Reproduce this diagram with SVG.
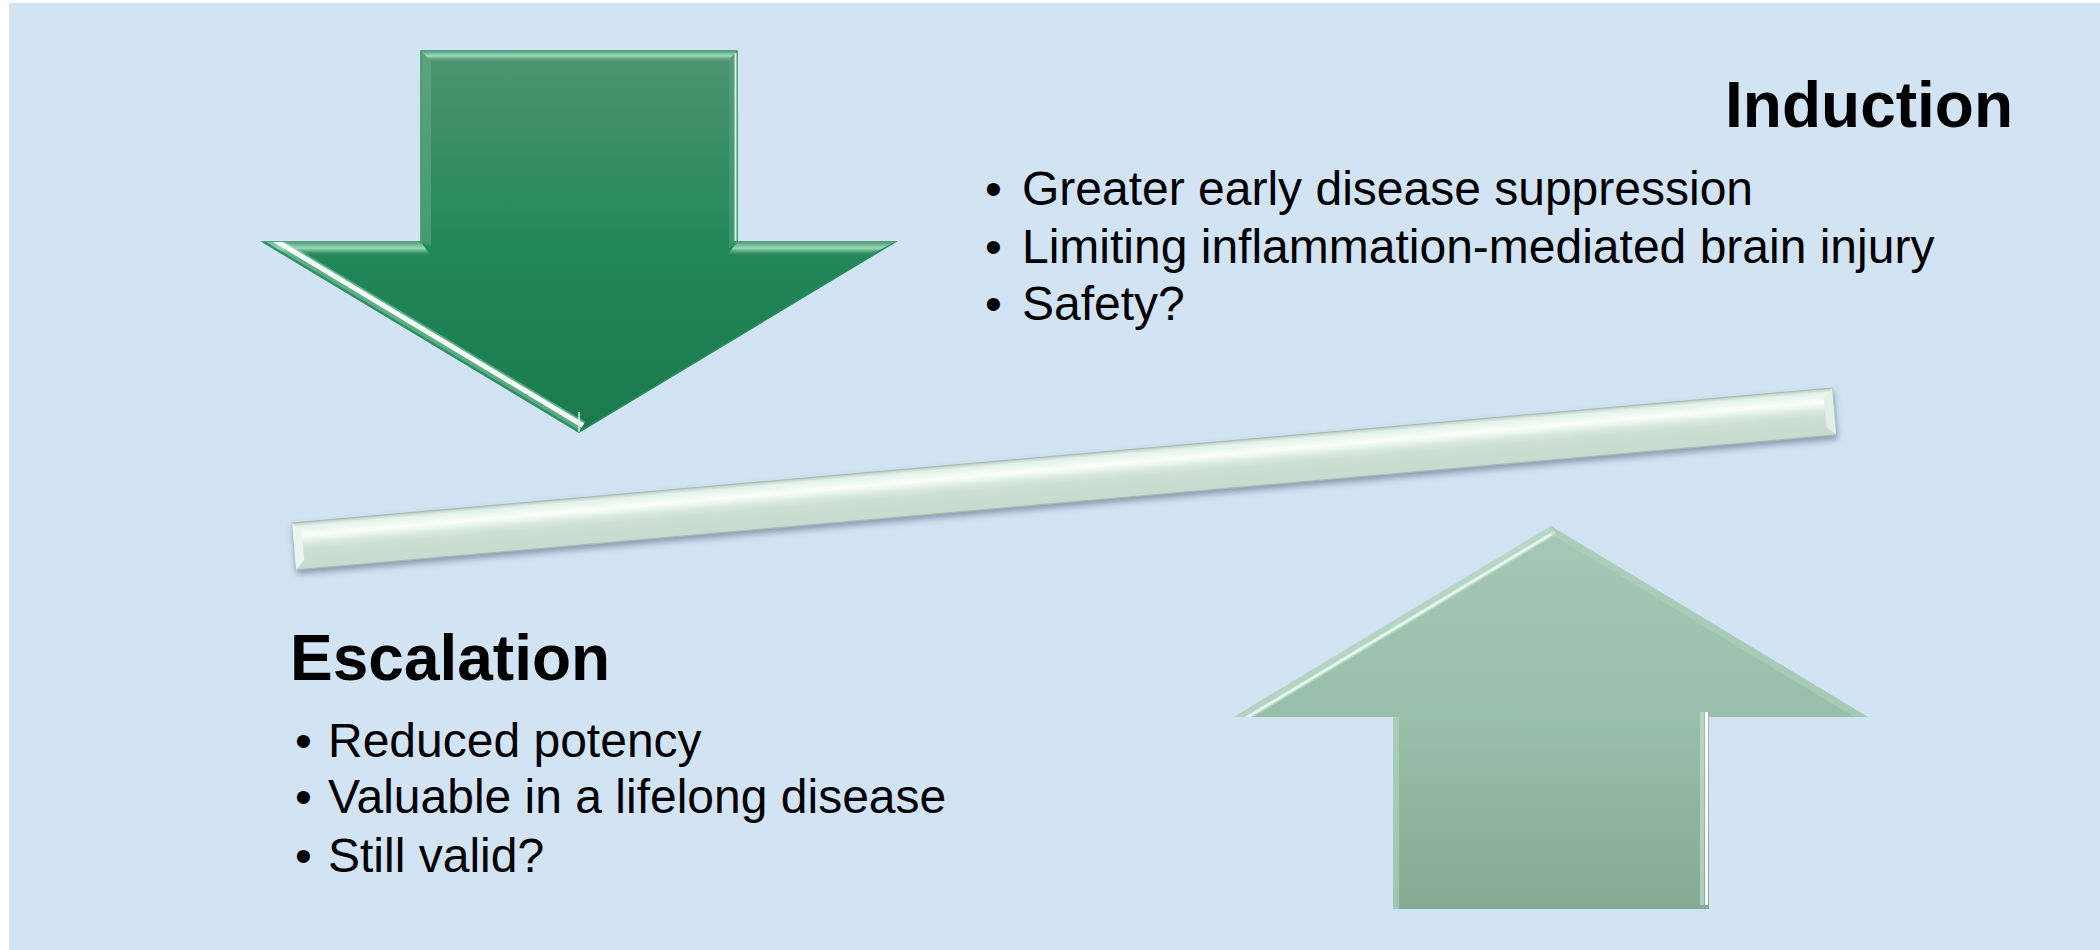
<svg xmlns="http://www.w3.org/2000/svg" width="2100" height="950" viewBox="0 0 2100 950">
  <defs>
    <style>
      .title { font-family: "Liberation Sans", Arial, sans-serif; font-weight: bold; font-size: 64px; fill: #000; }
      .item { font-family: "Liberation Sans", Arial, sans-serif; font-size: 48px; fill: #000; }
    </style>
    <linearGradient id="downFill" x1="0" y1="0" x2="0" y2="1">
      <stop offset="0" stop-color="#4d946f"/>
      <stop offset="0.5" stop-color="#228859"/>
      <stop offset="1" stop-color="#1a7a4d"/>
    </linearGradient>
    <linearGradient id="upFill" x1="0" y1="0" x2="0" y2="1">
      <stop offset="0" stop-color="#a5c8b5"/>
      <stop offset="0.5" stop-color="#98bfa9"/>
      <stop offset="1" stop-color="#85aa93"/>
    </linearGradient>
    <linearGradient id="barFill" x1="0" y1="0" x2="0" y2="1">
      <stop offset="0" stop-color="#b8cbc1"/>
      <stop offset="0.08" stop-color="#e3f1e9"/>
      <stop offset="0.28" stop-color="#fbfffd"/>
      <stop offset="0.45" stop-color="#dbeae1"/>
      <stop offset="0.58" stop-color="#cddfd4"/>
      <stop offset="1" stop-color="#c9dbcf"/>
    </linearGradient>
    <linearGradient id="mintBandH" x1="0" y1="0" x2="0" y2="1">
      <stop offset="0" stop-color="#5a9f7c"/>
      <stop offset="0.45" stop-color="#aee8cb"/>
      <stop offset="1" stop-color="#3f8f66" stop-opacity="0"/>
    </linearGradient>
    <clipPath id="downClip">
      <polygon points="421,51 737,51 737,242 895,242 579,432 263,242 421,242"/>
    </clipPath>
    <clipPath id="upClip">
      <polygon points="1551,526 1868,717 1709,717 1709,909 1393,909 1393,717 1234,717"/>
    </clipPath>
    <filter id="barShadow" x="-5%" y="-50%" width="110%" height="220%">
      <feDropShadow dx="1" dy="4" stdDeviation="3" flood-color="#4d6177" flood-opacity="0.55"/>
    </filter>
  </defs>

  <!-- slide background -->
  <rect x="0" y="0" width="2100" height="950" fill="#ffffff"/>
  <rect x="9" y="3" width="2091" height="947" fill="#d2e3f4"/>

  <!-- heavy side: downward arrow -->
  <g id="arrow-down">
    <polygon points="421,51 737,51 737,242 895,242 579,432 263,242 421,242" fill="url(#downFill)" stroke="#2a8b5d" stroke-width="1.5"/>
    <g clip-path="url(#downClip)">
      <!-- bevel bands -->
      <polygon points="421,51 737,51 727,62 431,62" fill="url(#mintBandH)" opacity="0.85"/>
      <polygon points="263,242 421,242 431,256 290,256" fill="url(#mintBandH)" opacity="0.85"/>
      <polygon points="737,242 895,242 868,256 727,256" fill="url(#mintBandH)" opacity="0.85"/>
      <polygon points="421,51 431,62 431,246 421,242" fill="#6fb390" opacity="0.45"/>
      <polygon points="737,51 737,242 729,248 729,60" fill="#5aa57f" opacity="0.5"/>
      <line x1="735.5" y1="53" x2="735.5" y2="241" stroke="#e6fff2" stroke-width="2" opacity="0.9"/>
      <!-- left head edge highlight -->
      <line x1="263" y1="242" x2="579" y2="432" stroke="#8bd6b0" stroke-width="24" opacity="0.55"/>
      <line x1="267" y1="235.5" x2="583" y2="425.5" stroke="#ffffff" stroke-width="5" opacity="0.95"/>
      <line x1="263" y1="242" x2="579" y2="432" stroke="#2a8b5d" stroke-width="3"/>
      <line x1="579" y1="432" x2="579" y2="412" stroke="#d8f7e7" stroke-width="2" opacity="0.8"/>
    </g>
  </g>

  <!-- light side: upward arrow -->
  <g id="arrow-up">
    <polygon points="1551,526 1868,717 1709,717 1709,909 1393,909 1393,717 1234,717" fill="url(#upFill)"/>
    <g clip-path="url(#upClip)">
      <line x1="1234" y1="717" x2="1551" y2="526" stroke="#c4e2d2" stroke-width="20" opacity="0.6"/>
      <line x1="1237.5" y1="723" x2="1554.5" y2="532" stroke="#eefbf4" stroke-width="3" opacity="0.85"/>
      <line x1="1551" y1="526" x2="1868" y2="717" stroke="#b3d3c1" stroke-width="14" opacity="0.5"/>
      <line x1="1393" y1="717" x2="1393" y2="909" stroke="#b8d8c6" stroke-width="12" opacity="0.6"/>
      <line x1="1706.5" y1="712" x2="1706.5" y2="905" stroke="#ffffff" stroke-width="3" opacity="0.95"/>
      <line x1="1702" y1="712" x2="1702" y2="905" stroke="#c9e6d6" stroke-width="4" opacity="0.6"/>
    </g>
  </g>

  <!-- tilted balance beam -->
  <g id="beam" filter="url(#barShadow)">
    <g transform="translate(292,523) rotate(-5.01)">
      <rect x="0" y="0" width="1546" height="47" fill="url(#barFill)" stroke="#a9bcb3" stroke-width="1"/>
      <polygon points="0,0 9,9 9,38 0,47" fill="#e9f5ee"/>
      <polygon points="1546,0 1546,47 1537,38 1537,9" fill="#e2f0e8"/>
    </g>
  </g>

  <!-- induction label and points -->
  <g id="induction">
    <text class="title" x="2013" y="127" text-anchor="end">Induction</text>
    <text class="item" x="985" y="205">•</text>
    <text class="item" x="1022" y="205">Greater early disease suppression</text>
    <text class="item" x="985" y="263">•</text>
    <text class="item" x="1022" y="263">Limiting inflammation-mediated brain injury</text>
    <text class="item" x="985" y="320">•</text>
    <text class="item" x="1022" y="320">Safety?</text>
  </g>

  <!-- escalation label and points -->
  <g id="escalation">
    <text class="title" x="290" y="680">Escalation</text>
    <text class="item" x="295" y="757">•</text>
    <text class="item" x="328" y="757">Reduced potency</text>
    <text class="item" x="295" y="813">•</text>
    <text class="item" x="328" y="813">Valuable in a lifelong disease</text>
    <text class="item" x="295" y="872">•</text>
    <text class="item" x="328" y="872">Still valid?</text>
  </g>
</svg>
